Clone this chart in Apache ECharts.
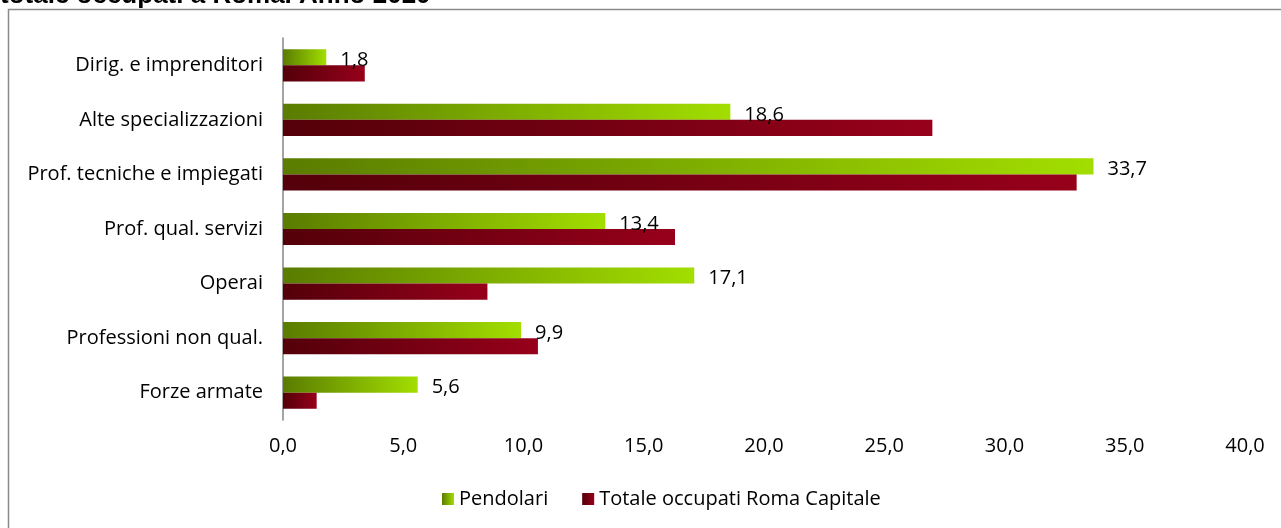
<!DOCTYPE html>
<html>
<head>
<meta charset="utf-8">
<script src="https://cdn.jsdelivr.net/npm/echarts@6/dist/echarts.min.js"></script>
<style>
  html, body { margin: 0; padding: 0; background: #fff; }
  #chart { width: 1281px; height: 528px; }
</style>
</head>
<body>
<div id="chart"></div>
<script>
// categorie (dall'alto in basso)
const categorie = ['Dirig. e imprenditori', 'Alte specializzazioni', 'Prof. tecniche e impiegati',
  'Prof. qual. servizi', 'Operai', 'Professioni non qual.', 'Forze armate'];
const pendolari = [1.8, 18.6, 33.7, 13.4, 17.1, 9.9, 5.6];
const totaleRoma = [3.4, 27.0, 33.0, 16.3, 8.5, 10.6, 1.4];
const tickX = ['0,0', '5,0', '10,0', '15,0', '20,0', '25,0', '30,0', '35,0', '40,0'];

const font = '"Open Sans", "Noto Sans", sans-serif';

const verde = new echarts.graphic.LinearGradient(0, 0, 1, 0, [
  { offset: 0, color: '#5a7c00' },
  { offset: 1, color: '#a2de00' }
]);
const rosso = new echarts.graphic.LinearGradient(0, 0, 1, 0, [
  { offset: 0, color: '#54000a' },
  { offset: 1, color: '#97001a' }
]);

let myChart = echarts.init(document.getElementById('chart'));
let option = {
  animation: false,
  graphic: [
    {
      type: 'rect',
      shape: { x: 8.5, y: 9.5, width: 1400, height: 700 },
      style: { fill: 'none', stroke: '#8a8a8a', lineWidth: 1.5 }
    },
    {
      type: 'text',
      left: 0,
      top: -17,
      style: {
        text: 'totale occupati a Roma. Anno 2020',
        font: 'bold 26px "Liberation Sans", Arial, sans-serif',
        fill: '#000'
      }
    }
  ],
  grid: { left: 283, right: 36, top: 38, bottom: 108 },
  legend: {
    bottom: 14,
    left: 437,
    itemWidth: 12,
    itemHeight: 12,
    itemGap: 34,
    icon: 'rect',
    textStyle: { fontFamily: font, fontSize: 20, color: '#000' },
    data: ['Pendolari', 'Totale occupati Roma Capitale']
  },
  xAxis: {
    type: 'value',
    min: 0,
    max: 40,
    interval: 5,
    axisLine: { show: false },
    axisTick: { show: false },
    splitLine: { show: false },
    axisLabel: {
      margin: 16,
      fontFamily: font,
      fontSize: 20,
      color: '#000',
      formatter: (v) => tickX[Math.round(v / 5)]
    }
  },
  yAxis: {
    type: 'category',
    inverse: true,
    data: categorie,
    axisLine: { lineStyle: { color: '#868686', width: 1.5 } },
    axisTick: { length: 5, lineStyle: { color: '#868686', width: 1.5 } },
    axisLabel: {
      margin: 20,
      fontFamily: font,
      fontSize: 20,
      color: '#000'
    }
  },
  series: [
    {
      name: 'Pendolari',
      type: 'bar',
      data: pendolari,
      barGap: '0%',
      barCategoryGap: '41%',
      itemStyle: { color: verde },
      label: {
        show: true,
        position: 'right',
        distance: 14,
        offset: [0, 3],
        fontFamily: font,
        fontSize: 20,
        color: '#000',
        formatter: (p) => p.value.toFixed(1).replace('.', ',')
      }
    },
    {
      name: 'Totale occupati Roma Capitale',
      type: 'bar',
      data: totaleRoma,
      itemStyle: { color: rosso }
    }
  ]
};
myChart.setOption(option);
</script>
</body>
</html>
